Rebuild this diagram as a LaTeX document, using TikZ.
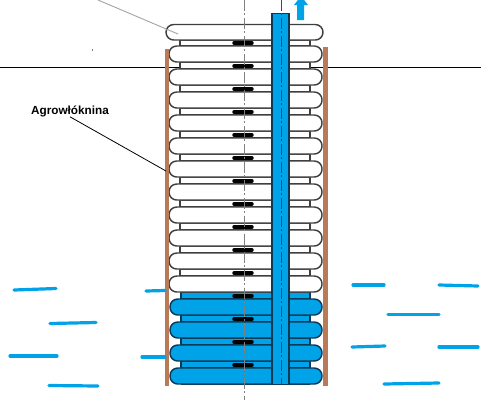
\documentclass[tikz,border=0pt]{standalone}
\usepackage{fontspec}
\setmainfont{Liberation Sans}
\usepackage{xcolor}
\usetikzlibrary{calc,arrows.meta,positioning}
\definecolor{waterc}{HTML}{00A2E8}
\definecolor{fleecec}{HTML}{B97A57}
\definecolor{edgec}{HTML}{3F3F3F}
\definecolor{deepc}{HTML}{0B3A57}
\tikzset{
  ring/.style={draw=edgec,line width=1.1pt,fill=white},
  ringwet/.style={draw=deepc,line width=1.1pt,fill=waterc},
  pillow/.style={rounded corners=5.8pt},
  wave/.style={waterc,line width=2.4pt,line cap=round},
  lead/.style={black,line width=0.6pt}
}
\begin{document}
\begin{tikzpicture}[x=0.75pt,y=-0.75pt]
\useasboundingbox (0,0) rectangle (481,400);
% ground
\draw[black,line width=1.2pt] (0,67.5)--(481,67.5);
% gaps between the rings
\foreach \yy/\hh in {40/6,62/7,85/7,108/7,131/7,154/7,177/7,200/7,223/7,246/7,269/7}
  \draw[ring] (180,\yy) rectangle (310,\yy+\hh);
\foreach \yy/\hh in {292/7,315/7,338/7,361/7,384/0}
  \draw[ringwet] (181,\yy) rectangle (310,\yy+\hh);
% rings
\draw[ring,pillow] (166,24.5) rectangle (323,40);
\foreach \yy in {46,69,92,115,138,161,184,207,230,253,276}
  \draw[ring,pillow] (169,\yy) rectangle (322,\yy+16);
\foreach \yy in {299,322,345,368}
  \draw[ringwet,pillow] (170,\yy) rectangle (322,\yy+16);
% clamps
\foreach \yy in {43,66,89,112,135,158,181,204,227,250,273,296,319,342,365}
  \draw[black,line width=2.6pt,line cap=round] (234,\yy)--(252,\yy);
% axis
\draw[gray,line width=0.6pt,dash pattern=on 8pt off 2pt on 1.5pt off 2pt] (244,0)--(244,400);
% pipe
\draw[deepc,line width=1.1pt,fill=waterc] (272,13.5) rectangle (289,384.5);
\draw[deepc!70!waterc,line width=0.6pt,dash pattern=on 8pt off 2pt on 1.5pt off 2pt] (281,0)--(281,384);
\fill[waterc] (297,20)--(304,20)--(304,5)--(308,5)--(301,-4)--(294,5)--(297,5)--cycle;
% fleece
\fill[fleecec] (164.5,49) rectangle (169,386);
\fill[fleecec] (323,47) rectangle (327.5,386);
% water
\foreach \xa/\ya/\xb/\yb in {14/290/56/288.5,50/323.5/96/322.5,10/356/57/356,49/385.5/98/386,146/291/165/290.5,142/357/165/357,
  353/285/384/285,439/285/478/286,388/314.5/439/314.5,352/347/385/346,439/347/478/347,384/384/439/383}
  \draw[wave] (\xa,\ya)--(\xb,\yb);
% labels
\node[font=\bfseries\fontsize{8.8pt}{10pt}\selectfont,inner sep=0pt] (fleecelbl) at (70,111) {Agrowłóknina};
\coordinate (fleecept) at (166,171);
\coordinate (ringpt) at (178,34);
\coordinate (ringfree) at (98,0);
\draw[lead] (fleecelbl.south)--(fleecept);
\draw[gray!70,line width=0.7pt] (ringfree)--(ringpt);
\fill[black] (92.5,50) circle (0.5pt);
\end{tikzpicture}
\end{document}
